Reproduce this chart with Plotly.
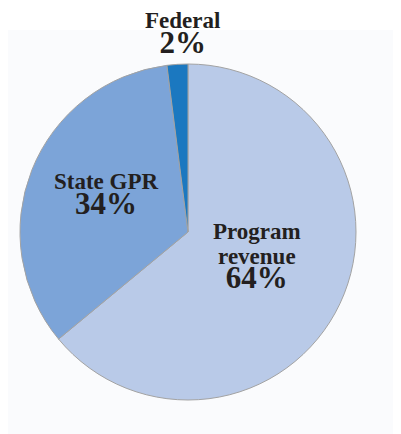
import plotly.graph_objects as go

labels = ["Program revenue", "State GPR", "Federal"]
label_lines = [["Program", "revenue"], ["State GPR"], ["Federal"]]
values = [64, 34, 2]
colors = ["#b9cae8", "#7ca4d8", "#1b78c0"]

# the page body adds an 8px offset; size figure so it fills the 401x434 window
OFF = 8
W, H = 401 - OFF, 434 - OFF


def px(x):
    return (x - OFF) / W


def py(y):
    return 1 - (y - OFF) / H


fig = go.Figure(go.Pie(
    labels=labels,
    values=values,
    sort=False,
    direction="clockwise",
    rotation=0,
    textinfo="none",
    hoverinfo="label+percent",
    marker=dict(colors=colors, line=dict(color="#a3a3a3", width=1)),
    domain=dict(x=[px(20), px(356)], y=[py(400), py(64)]),
    showlegend=False,
))

# label block centres (pixels in the final picture)
label_pos = [(257, 257), (107, 195), (182, 34)]

font_family = "Liberation Serif"
ann = []
for lines, v, (cx, cy) in zip(label_lines, values, label_pos):
    parts = [f"<span style='font-size:23px'><b>{t}</b></span>" for t in lines]
    parts.append(f"<span style='font-size:31px'><b>{v}%</b></span>")
    ann.append(dict(x=px(cx), y=py(cy), xref="paper", yref="paper",
                    text="<br>".join(parts), showarrow=False,
                    xanchor="center", yanchor="middle",
                    font=dict(family=font_family, size=19, color="#231f20")))

fig.update_layout(
    width=W, height=H,
    margin=dict(l=0, r=0, t=0, b=0),
    paper_bgcolor="white",
    plot_bgcolor="white",
    annotations=ann,
    shapes=[dict(type="rect", xref="paper", yref="paper",
                 x0=0, x1=1, y0=0, y1=py(30),
                 fillcolor="#fafbfd", line=dict(width=0), layer="below")],
)

fig.write_html("out.html")
